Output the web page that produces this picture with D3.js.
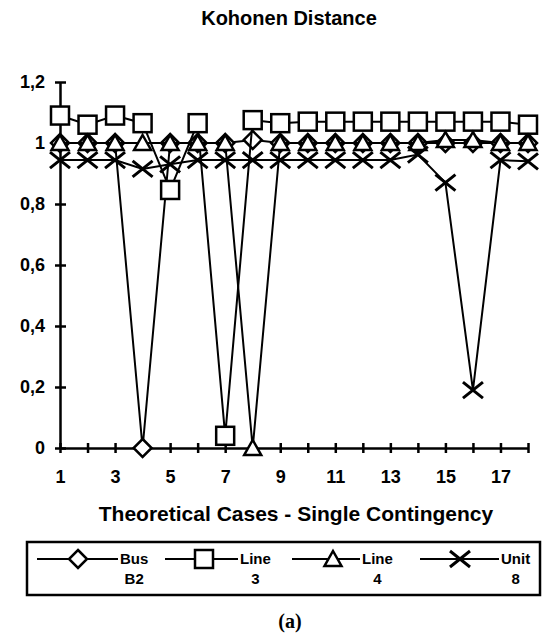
<!DOCTYPE html>
<html>
<head>
<meta charset="utf-8">
<script src="https://cdn.jsdelivr.net/npm/d3@7"></script>
<style>
  body { margin: 0; background: #fff; }
  svg { display: block; }
  text { font-family: "Liberation Sans", Arial, sans-serif; font-weight: bold; fill: #000; }
</style>
</head>
<body>
<svg width="543" height="635"></svg>
<script>
// cases 1..18
var cases = d3.range(1, 19);
var xTickLabels = [1, 3, 5, 7, 9, 11, 13, 15, 17];
var yTicks = [0, 0.2, 0.4, 0.6, 0.8, 1, 1.2];

var busB2  = [1, 1, 1, 0, 1, 1, 1, 1.01, 1, 1, 1, 1, 1, 1, 1, 1, 1, 1];
var line3  = [1.09, 1.06, 1.09, 1.065, 0.846, 1.065, 0.04, 1.075, 1.065, 1.07, 1.07, 1.07, 1.07, 1.07, 1.07, 1.07, 1.07, 1.06];
var line4  = [1, 1, 1, 1, 1, 1, 1, 0, 1, 1, 1, 1, 1, 1, 1.01, 1.01, 1, 1];
var unit8  = [0.944, 0.944, 0.944, 0.915, 0.93, 0.944, 0.944, 0.944, 0.944, 0.944, 0.944, 0.944, 0.944, 0.962, 0.87, 0.19, 0.944, 0.94];

var seriesNames = [["Bus", "B2"], ["Line", "3"], ["Line", "4"], ["Unit", "8"]];
var seriesValues = [busB2, line3, line4, unit8];
var seriesMarkers = ["diamond", "square", "triangle", "cross"];

var svg = d3.select("svg");

var x = d3.scaleLinear().domain([1, 18]).range([60, 528]);
var y = d3.scaleLinear().domain([0, 1.2]).range([448, 82]);

function fmt(d) {
  return d3.format("~g")(d).replace(".", ",");
}

// title
svg.append("text")
  .attr("x", 289).attr("y", 25)
  .attr("text-anchor", "middle")
  .style("font-size", "20px")
  .text("Kohonen Distance");

// y axis
var gy = svg.append("g")
  .attr("transform", "translate(" + x(1) + ",0)")
  .call(d3.axisLeft(y).tickValues(yTicks).tickFormat(fmt).tickSizeOuter(0));
gy.select(".domain").attr("stroke-width", 2.5);
gy.selectAll(".tick line").attr("x1", -5).attr("x2", 6).attr("stroke-width", 2.5);
gy.selectAll(".tick text")
  .attr("x", -15)
  .style("font-size", "18px")
  .style("font-family", "Liberation Sans, Arial, sans-serif");

// x axis
var gx = svg.append("g")
  .attr("transform", "translate(0," + y(0) + ")")
  .call(d3.axisBottom(x).tickValues(cases).tickSizeOuter(0)
    .tickFormat(function(d) { return xTickLabels.indexOf(d) >= 0 ? d : ""; }));
gx.select(".domain").attr("stroke-width", 2.5);
gx.selectAll(".tick line").attr("y1", -5).attr("y2", 5).attr("stroke-width", 2.5);
gx.selectAll(".tick text")
  .attr("y", 22)
  .style("font-size", "18px")
  .style("font-family", "Liberation Sans, Arial, sans-serif");

// x axis title
svg.append("text")
  .attr("x", 296).attr("y", 521)
  .attr("text-anchor", "middle")
  .style("font-size", "21px")
  .text("Theoretical Cases - Single Contingency");

function drawMarker(g, type) {
  if (type === "diamond") {
    g.append("path").attr("d", "M0,-9L9,0L0,9L-9,0Z")
      .attr("fill", "#fff").attr("stroke", "#000").attr("stroke-width", 2.5);
  } else if (type === "square") {
    g.append("rect").attr("x", -9).attr("y", -9).attr("width", 18).attr("height", 18)
      .attr("fill", "#fff").attr("stroke", "#000").attr("stroke-width", 2.5);
  } else if (type === "triangle") {
    g.append("path").attr("d", "M0,-8L8.5,7L-8.5,7Z")
      .attr("fill", "#fff").attr("stroke", "#000").attr("stroke-width", 2.5);
  } else {
    g.append("path").attr("d", "M-10,-8L10,8M-10,8L10,-8")
      .attr("fill", "none").attr("stroke", "#000").attr("stroke-width", 3);
  }
}

var line = d3.line()
  .x(function(d, i) { return x(cases[i]); })
  .y(function(d) { return y(d); });

seriesValues.forEach(function(vals, s) {
  var g = svg.append("g").attr("class", "series");
  g.append("path")
    .datum(vals)
    .attr("d", line)
    .attr("fill", "none")
    .attr("stroke", "#000")
    .attr("stroke-width", 2);
  g.selectAll("g.pt")
    .data(vals)
    .enter().append("g")
    .attr("class", "pt")
    .attr("transform", function(d, i) { return "translate(" + x(cases[i]) + "," + y(d) + ")"; })
    .each(function() { drawMarker(d3.select(this), seriesMarkers[s]); });
});

// legend
var legend = svg.append("g");
legend.append("rect")
  .attr("x", 27).attr("y", 542).attr("width", 513).attr("height", 53)
  .attr("fill", "none").attr("stroke", "#000").attr("stroke-width", 2.5);

var legendPos = [
  { x0: 37, mx: 78, x1: 118 },
  { x0: 165, mx: 204, x1: 238 },
  { x0: 292, mx: 333, x1: 360 },
  { x0: 420, mx: 460, x1: 499 }
];

legendPos.forEach(function(p, s) {
  var ly = 559;
  legend.append("line")
    .attr("x1", p.x0).attr("x2", p.x1).attr("y1", ly).attr("y2", ly)
    .attr("stroke", "#000").attr("stroke-width", 2);
  var m = legend.append("g").attr("transform", "translate(" + p.mx + "," + ly + ")");
  drawMarker(m, seriesMarkers[s]);
  var t1 = legend.append("text")
    .attr("x", p.x1 + 2).attr("y", 564)
    .style("font-size", "15px")
    .text(seriesNames[s][0]);
  var w = t1.node().getComputedTextLength();
  legend.append("text")
    .attr("x", p.x1 + 2 + w / 2).attr("y", 584)
    .attr("text-anchor", "middle")
    .style("font-size", "15px")
    .text(seriesNames[s][1]);
});

svg.append("text")
  .attr("x", 290).attr("y", 628)
  .attr("text-anchor", "middle")
  .style("font-family", "Liberation Serif, Times New Roman, serif")
  .style("font-weight", "bold")
  .style("font-size", "20px")
  .text("(a)");
</script>
</body>
</html>
